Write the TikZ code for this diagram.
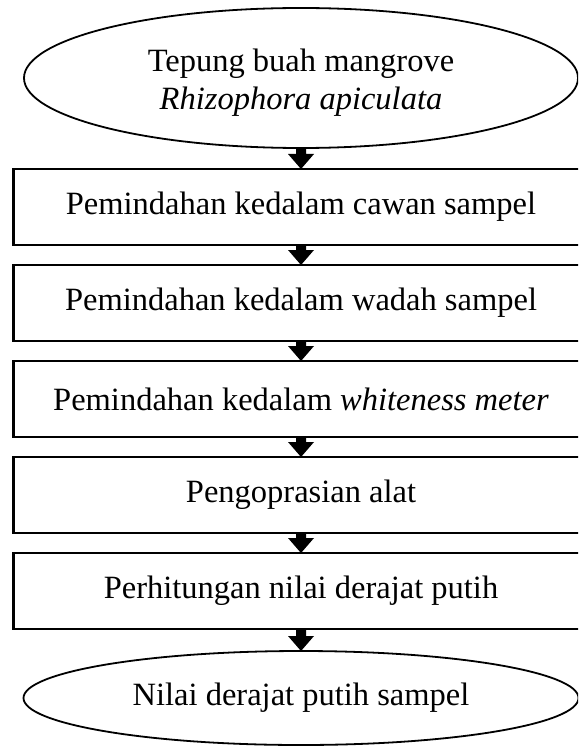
\documentclass[tikz,border=0pt]{standalone}
\usepackage{fontspec}
\setmainfont{Liberation Serif}
\usetikzlibrary{shapes.geometric,calc}

% filled block arrow from the bottom of one node to the top of the next
\newcommand{\flowarrow}[2]{%
  \fill ($(#1.south)+(-5,0)$) -- ($(#2.north)+(-5,-15)$) -- ($(#2.north)+(-13,-15)$)
    -- (#2.north) -- ($(#2.north)+(13,-15)$) -- ($(#2.north)+(5,-15)$)
    -- ($(#1.south)+(5,0)$) -- cycle;}

\tikzset{
  textfont/.style={font=\fontsize{32.5}{38}\selectfont, align=center},
  base/.style={draw, inner sep=0pt, outer sep=0pt, textfont},
  stepbox/.style={base, line width=2.1pt, rectangle, minimum width=575pt, minimum height=76pt},
  endpoint/.style={base, line width=1.8pt, ellipse},
}

\begin{document}
\begin{tikzpicture}[x=1pt,y=-1pt]
  \useasboundingbox (0,0) rectangle (578,746);
  \clip (0,0) rectangle (578,746);
  \fill[white] (0,0) rectangle (578,746);

  \node[endpoint, minimum width=554pt, minimum height=140pt,
        label={[textfont, inner sep=0pt, yshift=-5pt]center:{Tepung buah mangrove\\\textit{Rhizophora apiculata}}}]
    (start) at (301,78) {};
  \node[stepbox] (s1) at (301,207) {Pemindahan kedalam cawan sampel};
  \node[stepbox] (s2) at (301,303) {Pemindahan kedalam wadah sampel};
  \node[stepbox] (s3) at (301,399) {Pemindahan kedalam \textit{whiteness meter}};
  \node[stepbox] (s4) at (301,495) {Pengoprasian alat};
  \node[stepbox] (s5) at (301,591) {Perhitungan nilai derajat putih};
  \node[endpoint, minimum width=555pt, minimum height=94pt] (finish) at (301,698)
    {Nilai derajat putih sampel};

  \flowarrow{start}{s1}
  \flowarrow{s1}{s2}
  \flowarrow{s2}{s3}
  \flowarrow{s3}{s4}
  \flowarrow{s4}{s5}
  \flowarrow{s5}{finish}
\end{tikzpicture}
\end{document}
